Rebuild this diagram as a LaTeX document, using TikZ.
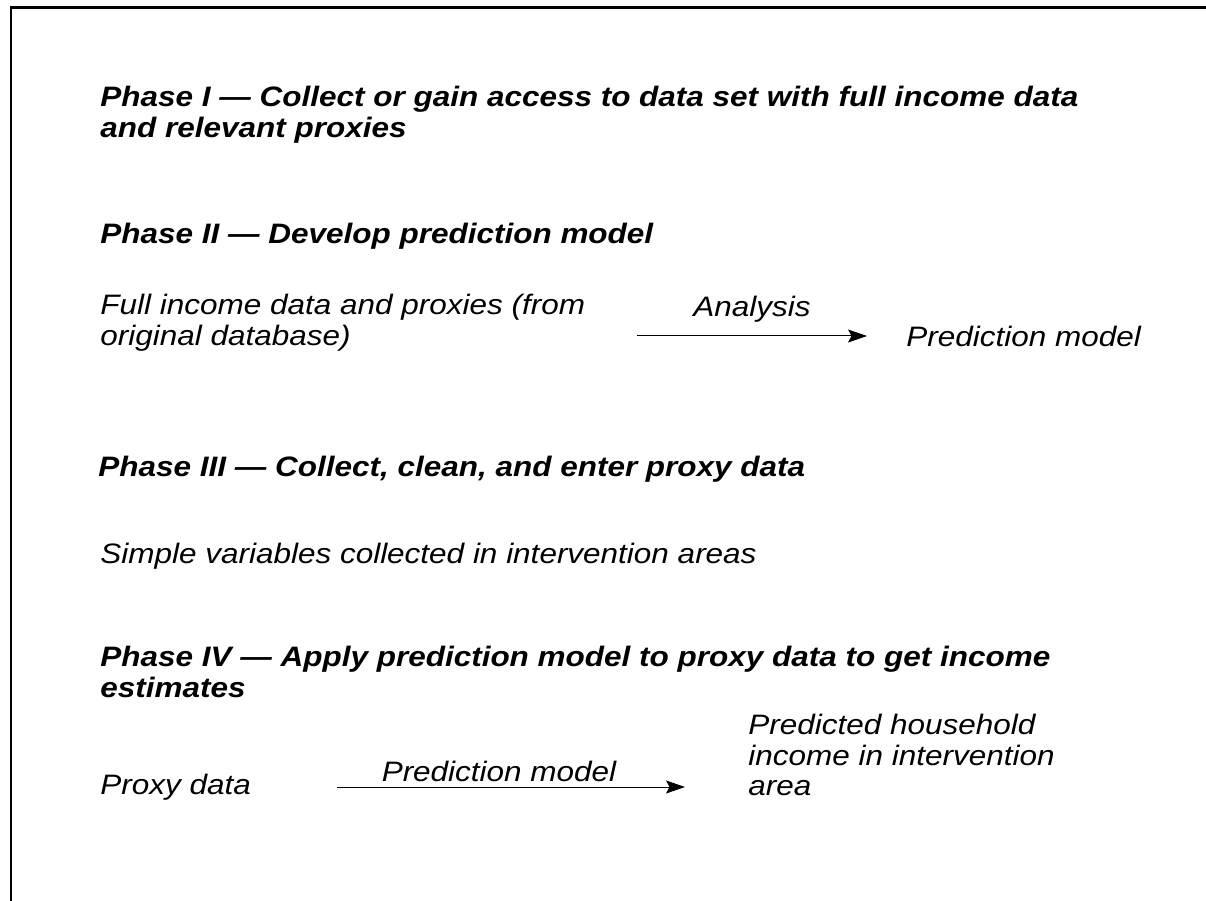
\documentclass[tikz,border=0pt]{standalone}
\usepackage{fontspec}
\setmainfont{Liberation Sans}[FakeStretch=1.12]
\usetikzlibrary{arrows.meta,positioning}

\begin{document}
\begin{tikzpicture}[x=0.02cm,y=-0.02cm,
  head/.style={anchor=west,align=left,inner sep=0pt,font=\fontsize{16}{17.6}\selectfont\bfseries\itshape},
  txt/.style={anchor=west,align=left,inner sep=0pt,font=\fontsize{16}{17.6}\selectfont\itshape},
  flow/.style={-{Stealth[length=0.38cm,width=0.26cm,inset=0.07cm]},line width=0.02cm}]
\useasboundingbox (0,0) rectangle (1206,901);
% frame
\draw[line width=0.06cm] (11,901) -- (11,7.5) -- (1206,7.5);

% phase I
\node[head] (phaseone) at (100,114.5) {Phase I --- Collect or gain access to data set with full income data\\and relevant proxies};

% phase II
\node[head] (phasetwo) at (100,236) {Phase II --- Develop prediction model};
\node[txt] (fulldata) at (100,322.5) {Full income data and proxies (from\\original database)};
\node[txt] (predmodel) at (906,336) {Prediction model};
\node[txt,anchor=center] (analysis) at (752,309) {Analysis};
\draw[flow,shorten <=1.04cm,shorten >=0.78cm] (fulldata.east |- predmodel.west) -- (predmodel.west);

% phase III
\node[head] (phasethree) at (98,469) {Phase III --- Collect, clean, and enter proxy data};
\node[txt] (simplevars) at (100,556) {Simple variables collected in intervention areas};

% phase IV
\node[head] (phasefour) at (100,671.5) {Phase IV --- Apply prediction model to proxy data to get income\\estimates};
\node[txt] (proxydata) at (100,787) {Proxy data};
\node[txt] (predincome) at (748,755) {Predicted household\\income in intervention\\area};
\node[txt,anchor=center] (predlabel) at (499,771) {Prediction model};
\draw[flow,shorten <=1.72cm,shorten >=1.26cm] (proxydata.east) -- (proxydata.east -| predincome.west);

\end{tikzpicture}
\end{document}
